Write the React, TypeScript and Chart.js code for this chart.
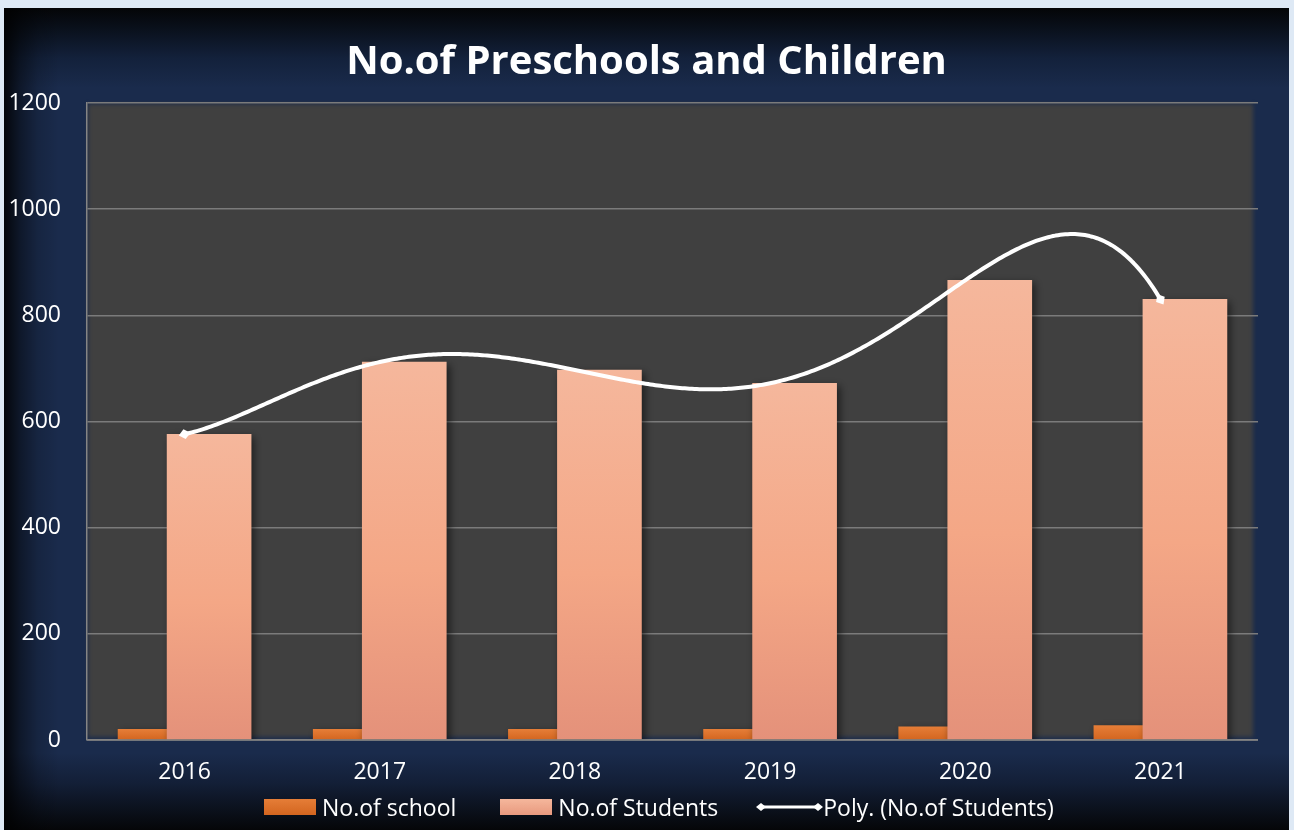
import React, { useEffect, useRef } from "react";
import { Chart, registerables } from "chart.js";

Chart.register(...registerables);

// ---- data ----
const years = ["2016", "2017", "2018", "2019", "2020", "2021"];
const schools = [20, 20, 20, 20, 25, 27];
const students = [576, 712, 697, 672, 866, 830];
const yMin = 0;
const yMax = 1200;
const yStep = 200;
const TITLE = "No.of Preschools and Children";
const LEGEND_SCHOOL = "No.of school";
const LEGEND_STUDENTS = "No.of Students";
const LEGEND_POLY = "Poly. (No.of Students)";

// ---- style ----
const FONT = "'Open Sans', 'Noto Sans', sans-serif";
const W = 1285;
const H = 822;
const BAR_SHIFT = 0.1256; // category fraction (overlapping clustered bars)
const BAR_PX = 84;

// polynomial trendline (degree n-1 through the series, as Excel's Poly. fit)
function polyAt(ys: number[], t: number): number {
  let s = 0;
  for (let i = 0; i < ys.length; i++) {
    let l = 1;
    for (let j = 0; j < ys.length; j++) {
      if (j !== i) l *= (t - j) / (i - j);
    }
    s += ys[i] * l;
  }
  return s;
}

function diamond(ctx: CanvasRenderingContext2D, x: number, y: number, ang: number, len: number, wid: number) {
  ctx.save();
  ctx.translate(x, y);
  ctx.rotate(ang);
  ctx.beginPath();
  ctx.moveTo(-len / 2, 0);
  ctx.lineTo(0, -wid / 2);
  ctx.lineTo(len / 2, 0);
  ctx.lineTo(0, wid / 2);
  ctx.closePath();
  ctx.fill();
  ctx.restore();
}

const plotBgPlugin = {
  id: "plotBg",
  beforeDraw(chart: any) {
    const { ctx, chartArea: a } = chart;
    ctx.save();
    ctx.filter = "blur(2px)";
    ctx.fillStyle = "#404040";
    ctx.fillRect(a.left + 1, a.top + 1, a.width - 6, a.height - 4);
    ctx.restore();
  },
  beforeDatasetDraw(chart: any) {
    const ctx = chart.ctx;
    ctx.save();
    ctx.shadowColor = "rgba(0,0,0,0.55)";
    ctx.shadowBlur = 8;
    ctx.shadowOffsetX = 3;
    ctx.shadowOffsetY = 3;
  },
  afterDatasetDraw(chart: any) {
    chart.ctx.restore();
  },
  afterDatasetsDraw(chart: any) {
    const { ctx, chartArea: a, scales } = chart;
    const xs = scales.x;
    const ys = scales.y;
    // category axis line
    ctx.save();
    ctx.strokeStyle = "#858585";
    ctx.lineWidth = 1.5;
    const y0 = ys.getPixelForValue(0);
    ctx.beginPath();
    ctx.moveTo(a.left, y0);
    ctx.lineTo(a.right, y0);
    ctx.stroke();
    ctx.restore();

    // polynomial trendline
    const n = students.length;
    const N = 400;
    const pts: [number, number][] = [];
    for (let k = 0; k <= N; k++) {
      const t = (k / N) * (n - 1);
      pts.push([xs.getPixelForValue(t), ys.getPixelForValue(polyAt(students, t))]);
    }
    ctx.save();
    ctx.strokeStyle = "#ffffff";
    ctx.fillStyle = "#ffffff";
    ctx.lineWidth = 4;
    ctx.lineJoin = "round";
    ctx.beginPath();
    pts.forEach(([x, y], i) => (i ? ctx.lineTo(x, y) : ctx.moveTo(x, y)));
    ctx.stroke();
    const a0 = Math.atan2(pts[1][1] - pts[0][1], pts[1][0] - pts[0][0]);
    const aN = Math.atan2(pts[N][1] - pts[N - 1][1], pts[N][0] - pts[N - 1][0]);
    diamond(ctx, pts[0][0], pts[0][1], a0, 12, 10);
    diamond(ctx, pts[N][0], pts[N][1], aN, 12, 10);
    ctx.restore();
  },
};

function studentsFill(c: any) {
  const chart = c.chart;
  if (!chart.chartArea || c.type !== "data") return "#f4a888";
  const ys = chart.scales.y;
  const top = ys.getPixelForValue(c.parsed.y);
  const bottom = ys.getPixelForValue(0);
  const g = chart.ctx.createLinearGradient(0, top, 0, bottom);
  g.addColorStop(0, "#f5b79c");
  g.addColorStop(0.55, "#f4a786");
  g.addColorStop(1, "#e4917a");
  return g;
}

function schoolFill(c: any) {
  const chart = c.chart;
  if (!chart.chartArea || c.type !== "data") return "#dc6e27";
  const ys = chart.scales.y;
  const top = ys.getPixelForValue(c.parsed.y);
  const bottom = ys.getPixelForValue(0);
  const g = chart.ctx.createLinearGradient(0, top, 0, bottom);
  g.addColorStop(0, "#e57d37");
  g.addColorStop(1, "#d3651f");
  return g;
}

export default function App() {
  const ref = useRef<HTMLCanvasElement | null>(null);

  useEffect(() => {
    document.body.style.background = "#dee9f5";
    const canvas = ref.current!;
    const hiddenX = (shift: number) => ({
      type: "linear",
      display: false,
      offset: false,
      grid: { offset: false },
      min: 2015.5 + shift,
      max: 2021.5 + shift,
      ticks: { stepSize: 1 },
    });
    const chart = new Chart(canvas, {
      type: "bar",
      data: {
        labels: years,
        datasets: [
          {
            label: LEGEND_SCHOOL,
            data: schools,
            xAxisID: "xSchool",
            backgroundColor: schoolFill as any,
            grouped: false,
            order: 1,
            barThickness: BAR_PX,
          } as any,
          {
            label: LEGEND_STUDENTS,
            data: students,
            xAxisID: "xStud",
            backgroundColor: studentsFill as any,
            grouped: false,
            order: 0,
            barThickness: BAR_PX,
          } as any,
        ],
      },
      options: {
        animation: false,
        responsive: false,
        devicePixelRatio: 1,
        layout: { padding: { left: 0, right: 31, top: 95, bottom: 0 } },
        plugins: {
          legend: { display: false },
          title: { display: false },
          tooltip: { enabled: false },
        },
        scales: {
          x: {
            type: "category",
            offset: true,
            grid: { display: false, drawTicks: false },
            border: { display: false },
            ticks: { color: "#ffffff", font: { family: FONT, size: 23 }, padding: 19 },
            afterFit: (s: any) => {
              s.height = 90;
            },
          },
          xSchool: hiddenX(BAR_SHIFT),
          xStud: hiddenX(-BAR_SHIFT),
          y: {
            min: yMin,
            max: yMax,
            ticks: {
              stepSize: yStep,
              color: "#ffffff",
              font: { family: FONT, size: 23 },
              padding: 26,
              callback: (v: any) => String(v),
            },
            grid: { color: "#7b7b7b", lineWidth: 1.5, drawTicks: false },
            border: { display: true, color: "#858585", width: 1.5 },
            afterFit: (s: any) => {
              s.width = 83;
            },
          },
        } as any,
      },
      plugins: [plotBgPlugin as any],
    });
    return () => chart.destroy();
  }, []);

  const swatch = (bg: string): React.CSSProperties => ({
    width: 52,
    height: 16,
    background: bg,
    marginRight: 6,
  });

  return (
    <div
      style={{
        position: "absolute",
        left: 4,
        top: 8,
        width: W,
        height: H,
        overflow: "hidden",
        background:
          "linear-gradient(to right, rgba(0,0,0,0.85) 0px, rgba(0,0,0,0.45) 16px, rgba(0,0,0,0.15) 34px, rgba(0,0,0,0) 55px)," +
          "linear-gradient(to bottom, #040507 0px, #0a111d 22px, #13213b 50px, #1a2b4c 80px, #1a2b4c 745px, #131f37 775px, #0a0f19 805px, #050608 822px)",
        fontFamily: FONT,
      }}
    >
      <canvas ref={ref} width={W} height={H} style={{ position: "absolute", left: 0, top: 0, width: W, height: H }} />
      <div
        style={{
          position: "absolute",
          left: 0,
          width: W,
          top: 30,
          textAlign: "center",
          color: "#ffffff",
          fontWeight: 700,
          fontSize: 40,
          lineHeight: "42px",
          whiteSpace: "nowrap",
        }}
      >
        {TITLE}
      </div>
      <div
        style={{
          position: "absolute",
          left: 260,
          top: 786,
          height: 26,
          display: "flex",
          alignItems: "center",
          color: "#ffffff",
          fontSize: 23,
          whiteSpace: "nowrap",
        }}
      >
        <div style={swatch("linear-gradient(#e57d37, #d3651f)")} />
        <span style={{ marginRight: 44 }}>{LEGEND_SCHOOL}</span>
        <div style={swatch("linear-gradient(#f5b79c, #e8997e)")} />
        <span style={{ marginRight: 38 }}>{LEGEND_STUDENTS}</span>
        <svg width={67} height={16} style={{ marginRight: 0 }}>
          <line x1={5} y1={8} x2={62} y2={8} stroke="#ffffff" strokeWidth={3} />
          <polygon points="0,8 5,4 10,8 5,12" fill="#ffffff" />
          <polygon points="57,8 62,4 67,8 62,12" fill="#ffffff" />
        </svg>
        <span>{LEGEND_POLY}</span>
      </div>
    </div>
  );
}
